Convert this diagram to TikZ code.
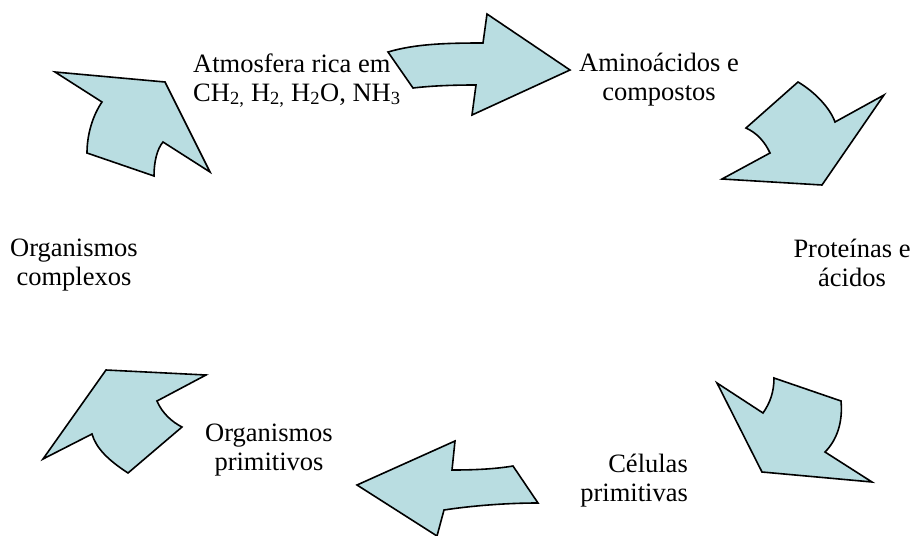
\documentclass[tikz,border=0pt]{standalone}
\usepackage{fontspec}
\setmainfont{Liberation Serif}
\definecolor{arrowfill}{RGB}{185,221,225}
\tikzset{
  blob/.style={fill=arrowfill, draw=black, line width=1.6pt},
  lbl/.style={font=\fontsize{26.5}{29}\selectfont, inner sep=0pt, align=center, anchor=base},
}
\begin{document}
\begin{tikzpicture}[x=1pt,y=-1pt]
  \useasboundingbox (0,0) rectangle (914,536);
  % the six curved arrows, clockwise from top left
  \draw[blob] (55,72) -- (165,82) -- (210,172) -- (163,142)
    .. controls (157,149) and (154,162) .. (154,176) -- (87,153)
    .. controls (87,134) and (93,115) .. (102,102) -- cycle;
  \draw[blob] (388,52) .. controls (415,44) and (445,43) .. (483,43)
    -- (487,14) -- (570,70) -- (472,115) -- (476,85)
    .. controls (450,85) and (430,86) .. (413,88) -- cycle;
  \draw[blob] (798,82) .. controls (815,92) and (830,108) .. (835,122)
    -- (884,95) -- (822,185) -- (722,179) -- (770,153)
    .. controls (765,142) and (757,133) .. (746,128) -- cycle;
  \draw[blob] (717,383) -- (763,413) .. controls (770,403) and (774,392) .. (774,378)
    -- (841,401) .. controls (843,422) and (837,440) .. (825,452)
    -- (872,482) -- (762,472) -- cycle;
  \draw[blob] (455,441) -- (452,470) .. controls (475,470) and (495,469) .. (513,466)
    -- (538,503) .. controls (505,503) and (470,506) .. (444,510)
    -- (437,536) -- (357,485) -- cycle;
  \draw[blob] (106,370) -- (206,375) -- (157,401)
    .. controls (162,413) and (172,422) .. (182,427) -- (128,473)
    .. controls (108,460) and (96,448) .. (92,434) -- (43,459) -- cycle;
  % labels (base = baseline of the last line)
  \node[lbl, align=left, anchor=base west] (atmos) at (193,101)
    {Atmosfera rica em\\CH\textsubscript{2,} H\textsubscript{2,} H\textsubscript{2}O, NH\textsubscript{3}};
  \foreach \pos/\nm/\txt in {(659,100)/amino/{Aminoácidos e\\compostos},
      (852,286)/prot/{Proteínas e\\ácidos},
      (269,470)/orgprim/{Organismos\\primitivos},
      (74,285)/orgcomp/{Organismos\\complexos}}
    \node[lbl] (\nm) at \pos {\txt};
  \node[lbl, align=right, anchor=base east] (cel) at (688,501) {Células\\primitivas};
\end{tikzpicture}
\end{document}
